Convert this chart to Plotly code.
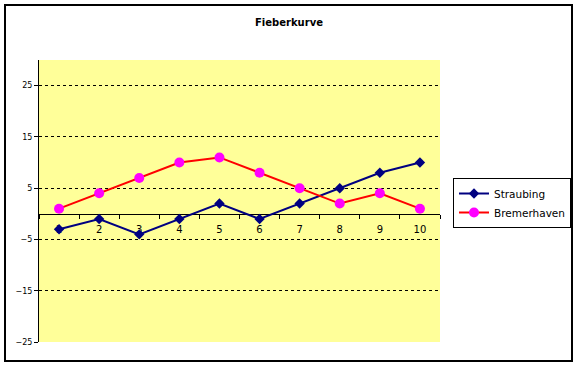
import plotly.graph_objects as go

categories = ["1", "2", "3", "4", "5", "6", "7", "8", "9", "10"]
straubing = [-3, -1, -4, -1, 2, -1, 2, 5, 8, 10]
bremerhaven = [1, 4, 7, 10, 11, 8, 5, 2, 4, 1]
y_ticks = [-25, -15, -5, 5, 15, 25]

W, H = 578, 366
L, R, T, B = 39, 138, 60, 24
pw, ph = W - L - R, H - T - B

def px_x(x):
    return (x - L) / pw

def px_y(y):
    return (H - B - y) / ph

fig = go.Figure()
fig.add_trace(go.Scatter(
    x=categories, y=straubing, name="Straubing", mode="lines+markers",
    line=dict(color="#000080", width=2),
    marker=dict(symbol="diamond", size=8, color="#000080"),
))
fig.add_trace(go.Scatter(
    x=categories, y=bremerhaven, name="Bremerhaven", mode="lines+markers",
    line=dict(color="#FF0000", width=2),
    marker=dict(symbol="circle", size=10, color="#FF00FF"),
))

ymin, ymax = -25, 30
fig.update_layout(
    width=W, height=H,
    margin=dict(l=L, r=R, t=T, b=B, autoexpand=False),
    paper_bgcolor="white",
    plot_bgcolor="#FFFF99",
    font=dict(family="DejaVu Sans", color="black"),
    title=dict(text="<b>Fieberkurve</b>", x=0.5, xref="container", xanchor="center",
               y=1 - 22 / H, yref="container", yanchor="middle",
               font=dict(size=10, family="DejaVu Sans", color="black")),
    showlegend=True,
    legend=dict(x=px_x(453), y=px_y(178), xanchor="left", yanchor="top",
                bordercolor="black", borderwidth=1, bgcolor="white",
                font=dict(size=10.5, family="DejaVu Sans"), tracegroupgap=0,
                itemwidth=30),
    xaxis=dict(type="category", range=[-0.5, 9.5], anchor="free",
               position=(0 - ymin) / (ymax - ymin),
               showline=True, linecolor="black", linewidth=1,
               ticks="outside", ticklen=4, tickcolor="black", tickson="boundaries",
               ticklabelstandoff=6,
               showgrid=False, zeroline=False, layer="below traces",
               tickfont=dict(size=10, family="DejaVu Sans", color="black")),
    yaxis=dict(range=[ymin, ymax], tickvals=y_ticks,
               showline=True, linecolor="black", linewidth=1,
               ticks="outside", ticklen=4, tickcolor="black",
               showgrid=True, gridcolor="black", griddash="3px,3px", gridwidth=1,
               zeroline=False,
               tickfont=dict(size=8, family="DejaVu Sans", color="black"),
               tickprefix="<b>", ticksuffix="</b>"),
)

fig.add_shape(type="rect", xref="paper", yref="paper",
              x0=px_x(5), x1=px_x(572), y0=px_y(361), y1=px_y(5),
              line=dict(color="black", width=2), fillcolor="rgba(0,0,0,0)",
              layer="above")

fig.write_html("out.html", config={"displayModeBar": False},
               post_script="document.body.style.margin='0';document.body.style.padding='0';")
